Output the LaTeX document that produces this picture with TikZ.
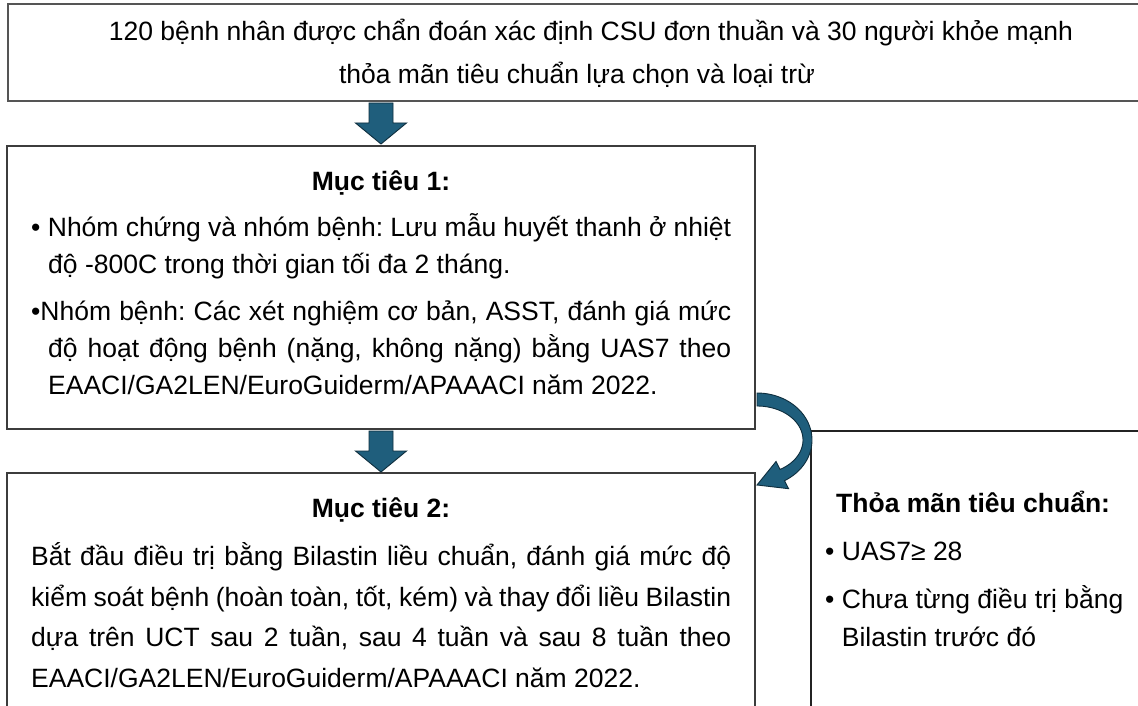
\documentclass[tikz,border=0pt]{standalone}
\usepackage{fontspec}
\setmainfont{Liberation Sans}
\usetikzlibrary{calc}
\definecolor{arrowfill}{RGB}{31,94,124}
\definecolor{arrowline}{RGB}{14,46,62}
\definecolor{topline}{RGB}{85,85,85}
\definecolor{boxline}{RGB}{60,60,60}
\definecolor{sideline}{RGB}{35,35,35}
\newcommand\downblock[2]{%
  \path[blockarrow] let \p1=(#1), \p2=(#2) in
    (\x1-12pt,\y1) -- (\x1+12pt,\y1) -- (\x1+12pt,\y2+21pt) -- (\x1+25.5pt,\y2+21pt)
    -- (\x1,\y2) -- (\x1-25.5pt,\y2+21pt) -- (\x1-12pt,\y2+21pt) -- cycle;}
\begin{document}
\frenchspacing
\begin{tikzpicture}[x=1pt,y=-1pt,
  box/.style={draw=boxline, line width=1.3pt, rectangle, inner sep=0pt, outer sep=0pt, anchor=north west},
  txt/.style={anchor=base west, inner sep=0pt, font=\fontsize{26.5}{32}\selectfont\frenchspacing},
  ctxt/.style={anchor=base, inner sep=0pt, font=\fontsize{26.5}{32}\selectfont\frenchspacing},
  btxt/.style={anchor=base, inner sep=0pt, font=\fontsize{26.5}{32}\selectfont\bfseries\frenchspacing},
  blockarrow/.style={fill=arrowfill, draw=arrowline, line width=0.9pt, line join=miter}
]
\useasboundingbox (0,0) rectangle (1138,706);
\fill[white] (0,0) rectangle (1138,706);

% boxes
\node[box, draw=topline, line width=2.2pt, minimum width=1134pt, minimum height=97pt] (top) at (8,4) {};
\node[box, minimum width=748pt, minimum height=283pt] (box1) at (7,146) {};
\node[box, minimum width=748pt, minimum height=270pt] (box2) at (7,473) {};
\node[box, draw=sideline, line width=1.2pt, minimum width=340pt, minimum height=300pt] (box3) at (811,431) {};

% top text
\node[ctxt] (t1) at (591,41) {120 bệnh nhân được chẩn đoán xác định CSU đơn thuần và 30 người khỏe mạnh};
\node[ctxt] (t2) at (577,84) {thỏa mãn tiêu chuẩn lựa chọn và loại trừ};

% box 1 text
\node[btxt] (m1) at (381,190) {Mục tiêu 1:};
\node[txt] (m1a) at (31,236) {\makebox[700pt][s]{•\kern7.4pt Nhóm chứng và nhóm bệnh: Lưu mẫu huyết thanh ở nhiệt}};
\node[txt] (m1b) at (48,273) {độ -800C trong thời gian tối đa 2 tháng.};
\node[txt] (m1c) at (31,320) {\makebox[700pt][s]{•Nhóm bệnh: Các xét nghiệm cơ bản, ASST, đánh giá mức}};
\node[txt] (m1d) at (48,357) {\makebox[683pt][s]{độ hoạt động bệnh (nặng, không nặng) bằng UAS7 theo}};
\node[txt] (m1e) at (48,394) {EAACI/GA2LEN/EuroGuiderm/APAAACI năm 2022.};

% box 2 text
\node[btxt] (m2) at (381,517) {Mục tiêu 2:};
\node[txt] (m2a) at (31,565) {\makebox[700pt][s]{Bắt đầu điều trị bằng Bilastin liều chuẩn, đánh giá mức độ}};
\node[txt] (m2b) at (31,606) {\makebox[700pt][s]{kiểm soát bệnh (hoàn toàn, tốt, kém) và thay đổi liều Bilastin}};
\node[txt] (m2c) at (31,646) {\makebox[700pt][s]{dựa trên UCT sau 2 tuần, sau 4 tuần và sau 8 tuần theo}};
\node[txt] (m2d) at (31,687) {EAACI/GA2LEN/EuroGuiderm/APAAACI năm 2022.};

% right box text
\node[btxt, anchor=base west] (r0) at (836,512) {Thỏa mãn tiêu chuẩn:};
\node[txt] (r1) at (825,560) {•\kern7.4pt UAS7≥ 28};
\node[txt] (r2) at (825,608) {•\kern7.4pt Chưa từng điều trị bằng};
\node[txt] (r3) at (841.7,646) {Bilastin trước đó};

% straight block arrows
\coordinate (a1s) at ($(top.south -| box1.north)+(0,2)$);
\coordinate (a1e) at ($(box1.north)+(0,-2)$);
\downblock{a1s}{a1e}
\coordinate (a2s) at ($(box1.south)+(0,2)$);
\coordinate (a2e) at ($(box2.north)+(0,-1)$);
\downblock{a2s}{a2e}

% curved arrow from box1 to box2
\begin{scope}[shift={(box1.south east)}]
\path[blockarrow]
  plot[domain=-90:60, samples=40] ({2+55*cos(\x)},{11+47*sin(\x)})
  -- (33.6,59.7) -- (2,56) -- (21,32.5)
  -- plot[domain=60:-90, samples=40] ({2+46*cos(\x)},{11+34*sin(\x)})
  -- cycle;
\end{scope}
\end{tikzpicture}
\end{document}
